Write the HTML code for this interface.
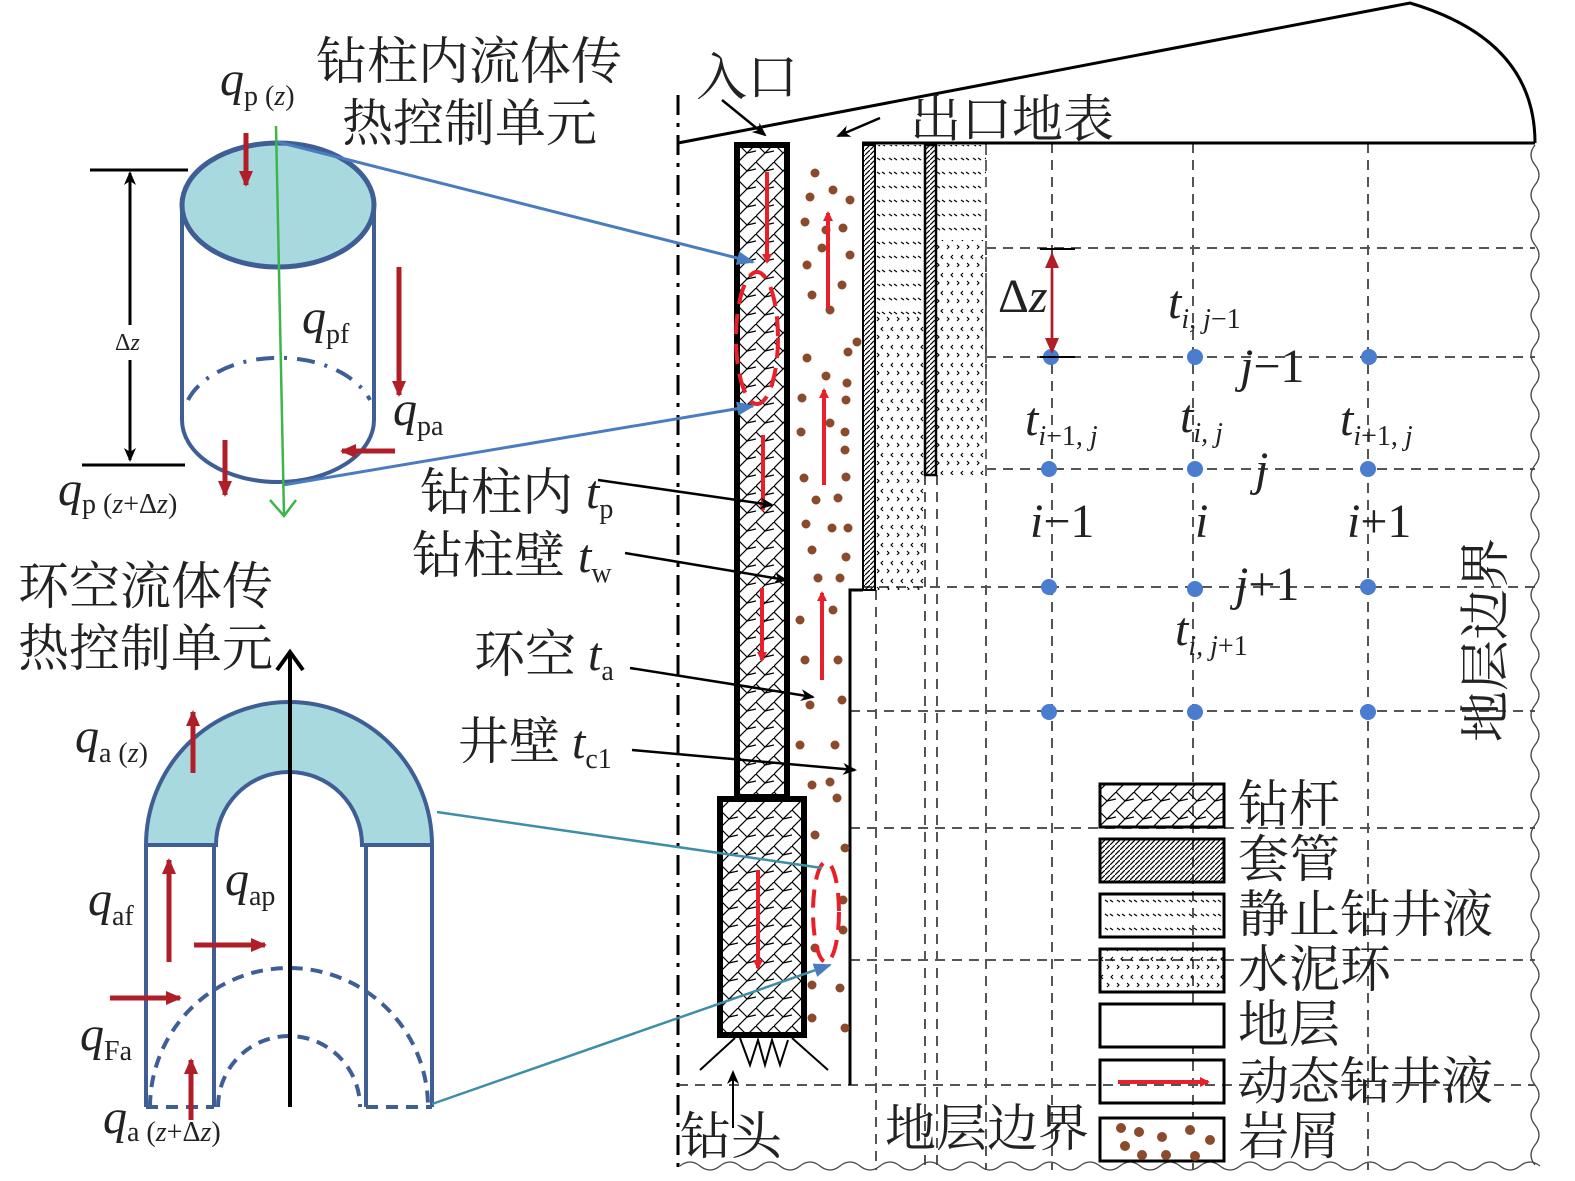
<!DOCTYPE html>
<html><head><meta charset="utf-8"><style>
html,body{margin:0;padding:0;background:#fff}
svg{display:block}
.t{font-family:"Liberation Serif","Noto Serif CJK SC","Noto Sans CJK SC",serif;fill:#222}
.i{font-style:italic}
</style></head><body>
<svg width="1575" height="1181" viewBox="0 0 1575 1181" xmlns="http://www.w3.org/2000/svg">
<defs>
<pattern id="cross" width="18" height="18" patternUnits="userSpaceOnUse">
<path d="M0 18 L18 0 M0 0 L9 9 M9 9 L18 7" stroke="#000" stroke-width="1.2" fill="none"/>
</pattern>
<pattern id="hatch" width="5" height="5" patternUnits="userSpaceOnUse">
<path d="M0 5 L5 0" stroke="#000" stroke-width="1.2"/>
</pattern>
<pattern id="static" width="12" height="14" patternUnits="userSpaceOnUse">
<path d="M1 4 L4 6 M6 4 L9 6" stroke="#000" stroke-width="1.2"/>
</pattern>
<pattern id="cement" width="20" height="18" patternUnits="userSpaceOnUse">
<path d="M3 3 L1 5 L3 7 M13 3 L11 5 L13 7 M7 11 L9 13 L7 15 M17 11 L19 13 L17 15" stroke="#000" stroke-width="1.1" fill="none"/>
</pattern>
<marker id="ar" markerWidth="10" markerHeight="10" refX="8" refY="5" orient="auto" markerUnits="userSpaceOnUse"><path d="M0 0 L10 5 L0 10 Z" fill="#e8202a"/></marker>
<marker id="ak" markerWidth="14" markerHeight="12" refX="12" refY="6" orient="auto" markerUnits="userSpaceOnUse"><path d="M0 0 L14 6 L0 12 L4 6 Z" fill="#000"/></marker>
<marker id="ad" markerWidth="16" markerHeight="14" refX="14" refY="7" orient="auto" markerUnits="userSpaceOnUse"><path d="M0 0 L16 7 L0 14 Z" fill="#b01e28"/></marker>
<marker id="ab" markerWidth="18" markerHeight="14" refX="16" refY="7" orient="auto" markerUnits="userSpaceOnUse"><path d="M0 0 L18 7 L0 14 Z" fill="#4a7cc0"/></marker>
</defs>

<g stroke="#555" stroke-width="2" stroke-dasharray="10 7" fill="none">
<line x1="986" y1="248" x2="1535" y2="248"/>
<line x1="986" y1="357" x2="1535" y2="357"/>
<line x1="986" y1="469" x2="1535" y2="469"/>
<line x1="862" y1="587" x2="1535" y2="587"/>
<line x1="850" y1="711" x2="1535" y2="711"/>
<line x1="850" y1="828" x2="1535" y2="828"/>
<line x1="850" y1="960" x2="1535" y2="960"/>
<line x1="678" y1="1085" x2="1535" y2="1085"/>
<line x1="876" y1="590" x2="876" y2="1170"/>
<line x1="925" y1="475" x2="925" y2="1170"/>
<line x1="937" y1="475" x2="937" y2="1170"/>
<line x1="986" y1="143" x2="986" y2="1170"/>
<line x1="1052" y1="143" x2="1052" y2="1170"/>
<line x1="1193" y1="143" x2="1193" y2="1170"/>
<line x1="1368" y1="143" x2="1368" y2="1170"/>
</g>
<line x1="678" y1="95" x2="678" y2="1175" stroke="#000" stroke-width="3" stroke-dasharray="20 8 4 8"/>
<path d="M1535 145 q-8 10 0 20 q8 10 0 20 q-8 10 0 20 q8 10 0 20 q-8 10 0 20 q8 10 0 20 q-8 10 0 20 q8 10 0 20 q-8 10 0 20 q8 10 0 20 q-8 10 0 20 q8 10 0 20 q-8 10 0 20 q8 10 0 20 q-8 10 0 20 q8 10 0 20 q-8 10 0 20 q8 10 0 20 q-8 10 0 20 q8 10 0 20 q-8 10 0 20 q8 10 0 20 q-8 10 0 20 q8 10 0 20 q-8 10 0 20 q8 10 0 20 q-8 10 0 20 q8 10 0 20 q-8 10 0 20 q8 10 0 20 q-8 10 0 20 q8 10 0 20 q-8 10 0 20 q8 10 0 20 q-8 10 0 20 q8 10 0 20 q-8 10 0 20 q8 10 0 20 q-8 10 0 20 q8 10 0 20 q-8 10 0 20 q8 10 0 20 q-8 10 0 20 q8 10 0 20 q-8 10 0 20 q8 10 0 20 q-8 10 0 20 q8 10 0 20 q-8 10 0 20 q8 10 0 20 q-8 10 0 20" stroke="#444" stroke-width="1.3" fill="none"/>
<path d="M680 1166 q10 -8 20 0 q10 8 20 0 q10 -8 20 0 q10 8 20 0 q10 -8 20 0 q10 8 20 0 q10 -8 20 0 q10 8 20 0 q10 -8 20 0 q10 8 20 0 q10 -8 20 0 q10 8 20 0 q10 -8 20 0 q10 8 20 0 q10 -8 20 0 q10 8 20 0 q10 -8 20 0 q10 8 20 0 q10 -8 20 0 q10 8 20 0 q10 -8 20 0 q10 8 20 0 q10 -8 20 0 q10 8 20 0 q10 -8 20 0 q10 8 20 0 q10 -8 20 0 q10 8 20 0 q10 -8 20 0 q10 8 20 0 q10 -8 20 0 q10 8 20 0 q10 -8 20 0 q10 8 20 0 q10 -8 20 0 q10 8 20 0 q10 -8 20 0 q10 8 20 0 q10 -8 20 0 q10 8 20 0 q10 -8 20 0 q10 8 20 0 q10 -8 20 0" stroke="#444" stroke-width="1.3" fill="none"/>

<path d="M678 143 L1410 3 Q1535 40 1535 143" stroke="#000" stroke-width="3" fill="none"/>
<line x1="862" y1="143" x2="1535" y2="143" stroke="#000" stroke-width="3"/>

<rect x="863" y="145" width="12" height="445" fill="url(#hatch)" stroke="#000" stroke-width="2"/>
<rect x="876" y="145" width="49" height="170" fill="url(#static)"/>
<rect x="876" y="315" width="49" height="275" fill="url(#cement)"/>
<rect x="925" y="145" width="11" height="330" fill="url(#hatch)" stroke="#000" stroke-width="2.5"/>
<rect x="937" y="145" width="49" height="95" fill="url(#static)"/>
<rect x="937" y="240" width="49" height="235" fill="url(#cement)"/>
<line x1="986" y1="145" x2="986" y2="475" stroke="#666" stroke-width="2" stroke-dasharray="10 6"/>
<path d="M850 1085 L850 590 L863 590" stroke="#000" stroke-width="3" fill="none"/>

<rect x="737" y="145" width="50" height="652" fill="url(#cross)" stroke="#000" stroke-width="6"/>
<rect x="720" y="799" width="84" height="236" fill="url(#cross)" stroke="#000" stroke-width="6"/>
<path d="M735 1038 L700 1070 M792 1038 L828 1070 M740 1038 L750 1065 L758 1040 L765 1065 L772 1040 L780 1065 L788 1040" stroke="#000" stroke-width="2" fill="none"/>
<line x1="733" y1="1128" x2="733" y2="1072" stroke="#000" stroke-width="2" marker-end="url(#ak)"/>

<g fill="#8b4a2b">
<circle cx="815" cy="173" r="4.5"/><circle cx="833" cy="190" r="4.5"/><circle cx="810" cy="197" r="4.5"/><circle cx="850" cy="200" r="4.5"/>
<circle cx="805" cy="222" r="4.5"/><circle cx="826" cy="230" r="4.5"/><circle cx="843" cy="228" r="4.5"/><circle cx="822" cy="248" r="4.5"/>
<circle cx="850" cy="255" r="4.5"/><circle cx="807" cy="265" r="4.5"/><circle cx="842" cy="285" r="4.5"/><circle cx="812" cy="295" r="4.5"/>
<circle cx="830" cy="310" r="4.5"/><circle cx="857" cy="342" r="4.5"/><circle cx="848" cy="352" r="4.5"/><circle cx="807" cy="358" r="4.5"/>
<circle cx="826" cy="376" r="4.5"/><circle cx="847" cy="383" r="4.5"/><circle cx="802" cy="398" r="4.5"/><circle cx="846" cy="400" r="4.5"/>
<circle cx="830" cy="423" r="4.5"/><circle cx="801" cy="432" r="4.5"/><circle cx="845" cy="432" r="4.5"/><circle cx="845" cy="450" r="4.5"/>
<circle cx="804" cy="478" r="4.5"/><circle cx="846" cy="477" r="4.5"/><circle cx="816" cy="500" r="4.5"/><circle cx="838" cy="498" r="4.5"/>
<circle cx="806" cy="524" r="4.5"/><circle cx="832" cy="528" r="4.5"/><circle cx="848" cy="528" r="4.5"/><circle cx="812" cy="550" r="4.5"/>
<circle cx="846" cy="557" r="4.5"/><circle cx="818" cy="578" r="4.5"/><circle cx="840" cy="578" r="4.5"/><circle cx="800" cy="620" r="4.5"/>
<circle cx="833" cy="610" r="4.5"/><circle cx="805" cy="660" r="4.5"/><circle cx="838" cy="660" r="4.5"/><circle cx="810" cy="705" r="4.5"/>
<circle cx="842" cy="700" r="4.5"/><circle cx="800" cy="745" r="4.5"/><circle cx="835" cy="745" r="4.5"/><circle cx="812" cy="785" r="4.5"/>
<circle cx="830" cy="782" r="4.5"/><circle cx="837" cy="798" r="4.5"/><circle cx="815" cy="835" r="4.5"/><circle cx="845" cy="848" r="4.5"/>
<circle cx="843" cy="900" r="4.5"/><circle cx="843" cy="930" r="4.5"/><circle cx="815" cy="948" r="4.5"/><circle cx="840" cy="988" r="4.5"/>
<circle cx="812" cy="985" r="4.5"/><circle cx="812" cy="1018" r="4.5"/><circle cx="845" cy="1028" r="4.5"/>
</g>

<g stroke="#e8202a" stroke-width="4" fill="none">
<line x1="767" y1="172" x2="767" y2="262" marker-end="url(#ar)"/>
<line x1="763" y1="435" x2="763" y2="510" marker-end="url(#ar)"/>
<line x1="762" y1="588" x2="762" y2="660" marker-end="url(#ar)"/>
<line x1="758" y1="870" x2="758" y2="968" marker-end="url(#ar)"/>
<line x1="828" y1="308" x2="828" y2="213" marker-end="url(#ar)"/>
<line x1="824" y1="485" x2="824" y2="390" marker-end="url(#ar)"/>
<line x1="822" y1="680" x2="822" y2="593" marker-end="url(#ar)"/>
<ellipse cx="757" cy="338" rx="21" ry="66" stroke-width="4" stroke-dasharray="20 10"/>
<ellipse cx="826" cy="912" rx="13" ry="50" stroke-width="4" stroke-dasharray="18 10"/>
</g>

<g stroke="#000" stroke-width="2.5" fill="none">
<line x1="722" y1="100" x2="765" y2="135" marker-end="url(#ak)"/>
<line x1="880" y1="118" x2="838" y2="136" marker-end="url(#ak)"/>
<line x1="598" y1="480" x2="772" y2="505" marker-end="url(#ak)"/>
<line x1="625" y1="553" x2="786" y2="580" marker-end="url(#ak)"/>
<line x1="630" y1="668" x2="813" y2="697" marker-end="url(#ak)"/>
<line x1="632" y1="750" x2="855" y2="770" marker-end="url(#ak)"/>
</g>

<g fill="#4a7cd0">
<circle cx="1051" cy="357" r="8"/><circle cx="1195" cy="357" r="8"/><circle cx="1369" cy="357" r="8"/>
<circle cx="1049" cy="469" r="8"/><circle cx="1195" cy="469" r="8"/><circle cx="1368" cy="469" r="8"/>
<circle cx="1049" cy="587" r="8"/><circle cx="1195" cy="589" r="8"/><circle cx="1368" cy="587" r="8"/>
<circle cx="1049" cy="712" r="8"/><circle cx="1195" cy="712" r="8"/><circle cx="1368" cy="712" r="8"/>
</g>
<line x1="1040" y1="249" x2="1075" y2="249" stroke="#000" stroke-width="2"/>
<line x1="1040" y1="357" x2="1075" y2="357" stroke="#000" stroke-width="2"/>
<line x1="1052" y1="340" x2="1052" y2="254" stroke="#b01e28" stroke-width="2.5" marker-end="url(#ad)"/>
<line x1="1052" y1="270" x2="1052" y2="352" stroke="#b01e28" stroke-width="2.5" marker-end="url(#ad)"/>

<g stroke="#000" stroke-width="3">
<rect x="1100" y="784" width="124" height="43" fill="url(#cross)"/>
<rect x="1100" y="839" width="124" height="43" fill="url(#hatch)"/>
<rect x="1100" y="894" width="124" height="43" fill="url(#static)"/>
<rect x="1100" y="949" width="124" height="43" fill="url(#cement)"/>
<rect x="1100" y="1004" width="124" height="43" fill="#fff"/>
<rect x="1100" y="1060" width="124" height="43" fill="none"/>
<rect x="1100" y="1118" width="124" height="43" fill="#fff"/>
</g>
<line x1="1118" y1="1082" x2="1208" y2="1082" stroke="#e8202a" stroke-width="4" marker-end="url(#ar)"/>
<g fill="#8b4a2b"><circle cx="1121" cy="1128" r="5"/><circle cx="1139" cy="1132" r="5"/><circle cx="1125" cy="1146" r="5"/><circle cx="1142" cy="1155" r="5"/><circle cx="1162" cy="1137" r="5"/><circle cx="1166" cy="1155" r="5"/><circle cx="1190" cy="1130" r="5"/><circle cx="1210" cy="1140" r="5"/><circle cx="1195" cy="1156" r="5"/></g>

<line x1="90" y1="170" x2="188" y2="170" stroke="#000" stroke-width="3"/>
<line x1="82" y1="465" x2="185" y2="465" stroke="#000" stroke-width="3"/>
<line x1="130" y1="325" x2="130" y2="173" stroke="#000" stroke-width="3" marker-end="url(#ak)"/>
<line x1="130" y1="360" x2="130" y2="460" stroke="#000" stroke-width="3" marker-end="url(#ak)"/>
<path d="M182 205 L182 420 A96 62 0 0 0 374 420 L374 205" stroke="#3f5e96" stroke-width="4" fill="none"/>
<path d="M188 400 A96 62 0 0 1 370 400" stroke="#3f5e96" stroke-width="4" fill="none" stroke-dasharray="18 10 3 10"/>
<ellipse cx="278" cy="205" rx="96" ry="62" fill="#a8d9de" stroke="#3f5e96" stroke-width="5"/>
<line x1="278" y1="142" x2="753" y2="262" stroke="#4a7cc0" stroke-width="3" marker-end="url(#ab)"/>
<line x1="283" y1="485" x2="753" y2="406" stroke="#4a7cc0" stroke-width="3" marker-end="url(#ab)"/>
<line x1="276" y1="126" x2="284" y2="515" stroke="#3cb54a" stroke-width="2.5"/>
<path d="M270 500 L284 516 L296 500" stroke="#3cb54a" stroke-width="2.5" fill="none"/>
<g stroke="#b01e28" stroke-width="5" fill="none">
<line x1="246" y1="133" x2="246" y2="185" marker-end="url(#ad)"/>
<line x1="399" y1="267" x2="399" y2="395" marker-end="url(#ad)"/>
<line x1="225" y1="440" x2="225" y2="495" marker-end="url(#ad)"/>
<line x1="395" y1="451" x2="342" y2="451" marker-end="url(#ad)"/>
</g>

<path d="M146 845 A143 143 0 0 1 432 845 L362 845 A73 73 0 0 0 216 845 Z" fill="#a8d9de" stroke="#3f5e96" stroke-width="4"/>
<g stroke="#3f5e96" stroke-width="4" fill="none">
<path d="M146 845 L146 1107 M214 845 L214 1107 M366 845 L366 1107 M432 845 L432 1107"/>
<path d="M150 1107 A139 139 0 0 1 428 1107" stroke-dasharray="12 8"/>
<path d="M218 1107 A71 71 0 0 1 360 1107" stroke-dasharray="12 8"/>
<path d="M146 1107 L214 1107 M366 1107 L432 1107" stroke-dasharray="12 8"/>
</g>
<line x1="290" y1="1107" x2="290" y2="655" stroke="#000" stroke-width="4"/>
<path d="M277 670 L290 652 L303 670" stroke="#000" stroke-width="4" fill="none"/>
<line x1="437" y1="812" x2="822" y2="868" stroke="#3f8ea8" stroke-width="2.5"/>
<line x1="432" y1="1104" x2="830" y2="965" stroke="#3f8ea8" stroke-width="2.5" marker-end="url(#ab)"/>
<g stroke="#b01e28" stroke-width="5" fill="none">
<line x1="193" y1="773" x2="193" y2="712" marker-end="url(#ad)"/>
<line x1="169" y1="962" x2="169" y2="860" marker-end="url(#ad)"/>
<line x1="194" y1="945" x2="265" y2="945" marker-end="url(#ad)"/>
<line x1="110" y1="998" x2="180" y2="998" marker-end="url(#ad)"/>
<line x1="191" y1="1120" x2="191" y2="1060" marker-end="url(#ad)"/>
</g>

<g class="t" font-size="51">
<text x="316" y="79">钻柱内流体传</text>
<text x="342" y="141">热控制单元</text>
<text x="18" y="604">环空流体传</text>
<text x="18" y="666">热控制单元</text>
<text x="696" y="95">入口</text>
<text x="910" y="137">出口地表</text>
<text x="420" y="510">钻柱内</text>
<text x="412" y="573">钻柱壁</text>
<text x="474" y="672">环空</text>
<text x="458" y="759">井壁</text>
<text x="680" y="1154">钻头</text>
<text x="885" y="1146">地层边界</text>
<text x="1238" y="822">钻杆</text>
<text x="1238" y="877">套管</text>
<text x="1238" y="932">静止钻井液</text>
<text x="1238" y="987">水泥环</text>
<text x="1238" y="1042">地层</text>
<text x="1238" y="1099">动态钻井液</text>
<text x="1238" y="1154">岩屑</text>
<text transform="translate(1503,742) rotate(-90)">地层边界</text>
</g>
<g class="t" font-size="48">
<text x="586" y="508" class="i">t<tspan font-size="28" font-style="normal" dy="10">p</tspan></text>
<text x="578" y="572" class="i">t<tspan font-size="28" font-style="normal" dy="10">w</tspan></text>
<text x="588" y="670" class="i">t<tspan font-size="28" font-style="normal" dy="10">a</tspan></text>
<text x="572" y="758" class="i">t<tspan font-size="28" font-style="normal" dy="10">c1</tspan></text>
<text x="220" y="95" class="i">q<tspan font-size="28" font-style="normal" dy="10">p (</tspan><tspan font-size="28">z</tspan><tspan font-size="28" font-style="normal">)</tspan></text>
<text x="302" y="333" class="i">q<tspan font-size="28" font-style="normal" dy="10">pf</tspan></text>
<text x="393" y="425" class="i">q<tspan font-size="28" font-style="normal" dy="10">pa</tspan></text>
<text x="58" y="505" class="i">q<tspan font-size="28" font-style="normal" dy="8">p (</tspan><tspan font-size="28">z</tspan><tspan font-size="28" font-style="normal">+Δ</tspan><tspan font-size="28">z</tspan><tspan font-size="28" font-style="normal">)</tspan></text>
<text x="75" y="752" class="i">q<tspan font-size="28" font-style="normal" dy="10">a (</tspan><tspan font-size="28">z</tspan><tspan font-size="28" font-style="normal">)</tspan></text>
<text x="88" y="915" class="i">q<tspan font-size="28" font-style="normal" dy="10">af</tspan></text>
<text x="225" y="895" class="i">q<tspan font-size="28" font-style="normal" dy="10">ap</tspan></text>
<text x="80" y="1050" class="i">q<tspan font-size="28" font-style="normal" dy="10">Fa</tspan></text>
<text x="103" y="1133" class="i">q<tspan font-size="28" font-style="normal" dy="8">a (</tspan><tspan font-size="28">z</tspan><tspan font-size="28" font-style="normal">+Δ</tspan><tspan font-size="28">z</tspan><tspan font-size="28" font-style="normal">)</tspan></text>
<text x="998" y="312">Δ<tspan class="i">z</tspan></text>
<text x="1168" y="318" class="i">t<tspan font-size="28" dy="10">i, j</tspan><tspan font-size="28" font-style="normal">−1</tspan></text>
<text x="1240" y="382" class="i">j<tspan font-style="normal">−1</tspan></text>
<text x="1025" y="435" class="i">t<tspan font-size="28" dy="10">i</tspan><tspan font-size="28" font-style="normal">−1, </tspan><tspan font-size="28">j</tspan></text>
<text x="1180" y="432" class="i">t<tspan font-size="28" dy="10">i, j</tspan></text>
<text x="1340" y="435" class="i">t<tspan font-size="28" dy="10">i</tspan><tspan font-size="28" font-style="normal">+1, </tspan><tspan font-size="28">j</tspan></text>
<text x="1255" y="485" class="i">j</text>
<text x="1030" y="537" class="i">i<tspan font-style="normal">−1</tspan></text>
<text x="1195" y="537" class="i">i</text>
<text x="1347" y="537" class="i">i<tspan font-style="normal">+1</tspan></text>
<text x="1235" y="600" class="i">j<tspan font-style="normal">+1</tspan></text>
<text x="1175" y="645" class="i">t<tspan font-size="28" dy="10">i, j</tspan><tspan font-size="28" font-style="normal">+1</tspan></text>
</g>
<text x="115" y="350" class="t" font-size="24">Δ<tspan class="i">z</tspan></text>
</svg>
</body></html>
